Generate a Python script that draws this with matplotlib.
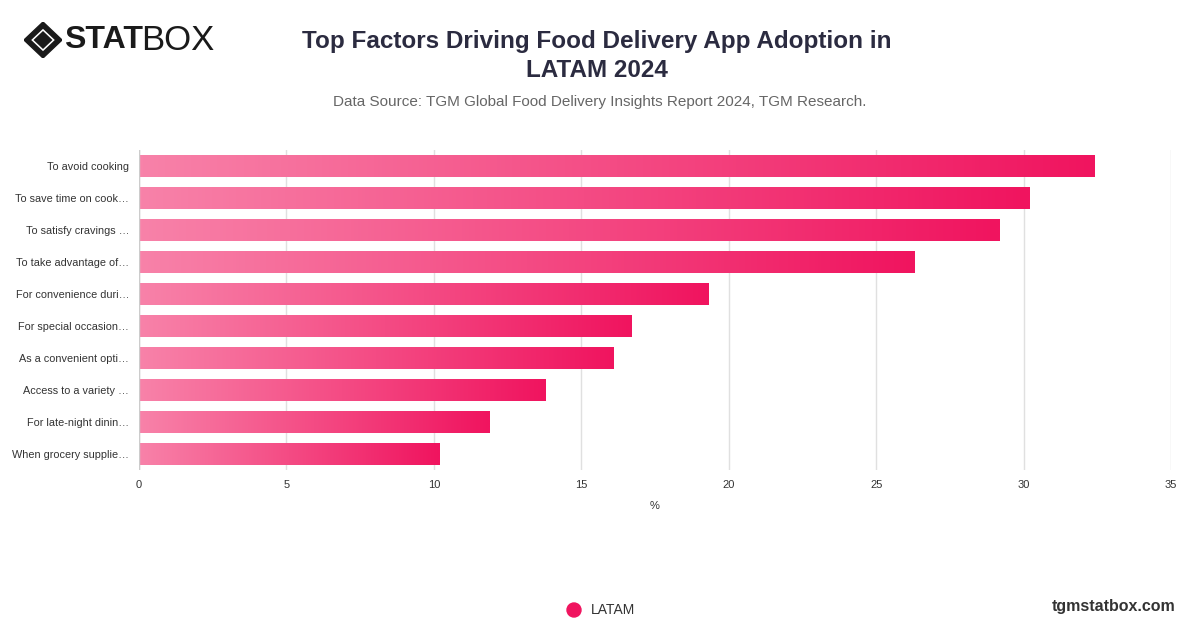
import matplotlib
matplotlib.use("Agg")
import matplotlib.pyplot as plt
import numpy as np
from matplotlib.colors import LinearSegmentedColormap
from matplotlib.patches import Rectangle, Polygon, Ellipse

plt.rcParams['font.family'] = ['Liberation Sans', 'DejaVu Sans']

categories = ["To avoid cooking", "To save time on cook…", "To satisfy cravings …",
              "To take advantage of…", "For convenience duri…", "For special occasion…",
              "As a convenient opti…", "Access to a variety …", "For late-night dinin…",
              "When grocery supplie…"]
values = [32.4, 30.2, 29.2, 26.3, 19.3, 16.7, 16.1, 13.8, 11.9, 10.2]
xticks = [0, 5, 10, 15, 20, 25, 30, 35]

W, H = 1200, 628
fig = plt.figure(figsize=(W/100, H/100), dpi=100)
ax = fig.add_axes([139/W, 1-470/H, (1171-139)/W, (470-150)/H])
cmap = LinearSegmentedColormap.from_list("g", ["#f882a9", "#f0145f"])
grad = np.linspace(0, 1, 256).reshape(1, -1)
n = len(categories)
for i, (c, v) in enumerate(zip(categories, values)):
    y = n-1-i
    im = ax.imshow(grad, cmap=cmap, extent=[0, v, y-0.35, y+0.35], aspect="auto", zorder=2)
    r = Rectangle((0, y-0.35), v, 0.7, transform=ax.transData, facecolor="none", edgecolor="none")
    ax.add_patch(r)
    im.set_clip_path(r)
ax.set_xlim(0, 35)
ax.set_ylim(-0.5, n-0.5)
ax.set_yticks(range(n))
ax.set_yticklabels(categories[::-1], fontsize=7.8, color="#333333")
ax.set_xticks(xticks)
ax.set_xticklabels([str(t) for t in xticks], fontsize=8, color="#333333")
ax.tick_params(length=0, pad=7)
ax.grid(axis="x", color="#e0e0e0", lw=1, zorder=0)
ax.set_axisbelow(True)
for s in ax.spines.values():
    s.set_visible(False)
ax.axvline(0, color="#cccccc", lw=1, zorder=3)
ax.set_xlabel("%", fontsize=8, color="#333333", labelpad=8)

fig.text(597/W, 1-56/H, "Top Factors Driving Food Delivery App Adoption in\nLATAM 2024",
         ha="center", va="center", fontsize=17.5, fontweight="bold", color="#2b2b40",
         linespacing=1.35)
fig.text(600/W, 1-102/H, "Data Source: TGM Global Food Delivery Insights Report 2024, TGM Research.",
         ha="center", va="center", fontsize=11, color="#666666")
# logo
fig.text(64/W, 1-40/H, "STAT", ha="left", va="center", fontsize=23, fontweight="heavy", color="#1a1a1a")
fig.text(141/W, 1-40/H, "BOX", ha="left", va="center", fontsize=25, color="#1a1a1a")
lax = fig.add_axes([24/W, 1-58/H, 38/W, 36/H]); lax.set_xlim(-1, 1); lax.set_ylim(-1, 1); lax.axis("off")
lax.add_patch(Polygon([[0, 1], [1, 0], [0, -1], [-1, 0]], color="#1a1a1a"))
lax.add_patch(Polygon([[0, 0.62], [0.62, 0], [0, -0.62], [-0.62, 0]], facecolor="white"))
lax.add_patch(Polygon([[0, 0.5], [0.5, 0], [0, -0.5], [-0.5, 0]], facecolor="#1a1a1a"))
# legend
fig.patches.append(Ellipse((574/W, 1-610/H), 14/W, 14/H, transform=fig.transFigure, color="#f0145f"))
fig.text(591/W, 1-610/H, "LATAM", ha="left", va="center", fontsize=10, color="#333333")
fig.text(1176/W, 1-606/H, "tgmstatbox.com", ha="right", va="center", fontsize=11.5,
         fontweight="bold", color="#333333")
fig.savefig("out.png", dpi=100)
